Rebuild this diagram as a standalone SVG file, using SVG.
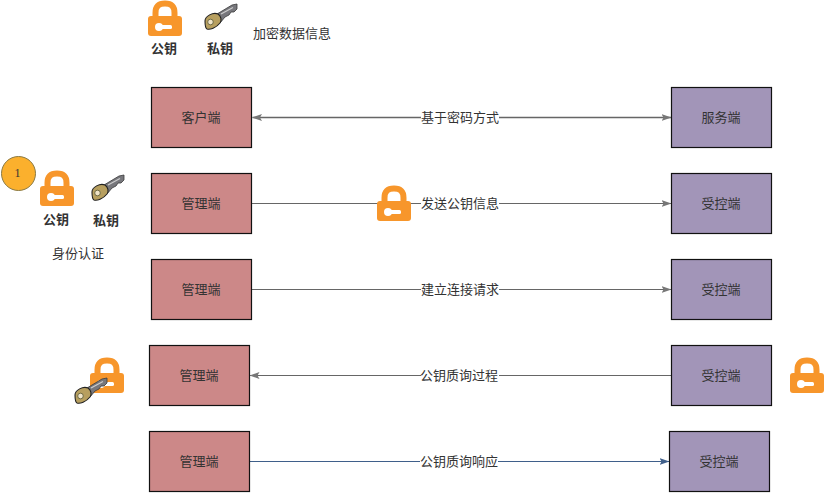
<svg xmlns="http://www.w3.org/2000/svg" width="825" height="494" viewBox="0 0 825 494">
<style>
text{font-family:"Noto Sans CJK SC","Liberation Sans",sans-serif;font-size:13px;fill:#333;text-anchor:middle;dominant-baseline:central}
.b{font-weight:700;font-size:13px}
.m{fill:#cc8888;stroke:#111;stroke-width:1.2}
.p{fill:#a295b8;stroke:#111;stroke-width:1.2}
.c{fill:none;stroke:#666;stroke-width:1}
.l{fill:#fff;stroke:none}
</style>
<defs>
<marker id="a" markerWidth="11" markerHeight="8" refX="9.5" refY="4" orient="auto-start-reverse" markerUnits="userSpaceOnUse"><path d="M0 0.500L10 4L0 7.500L2 4Z" fill="#777"/></marker>
<marker id="b" markerWidth="11" markerHeight="8" refX="9.5" refY="4" orient="auto-start-reverse" markerUnits="userSpaceOnUse"><path d="M0 0.500L10 4L0 7.500L2 4Z" fill="#3f5f8a"/></marker>
<symbol id="lock" width="35" height="35" viewBox="0 0 35 35" overflow="visible">
<path d="M7.5 16V12C7.500 5 11 2.500 17 2.500S26.500 5 26.500 12V16" fill="none" stroke="#f7962b" stroke-width="6"/>
<rect x="0" y="15" width="34" height="20" rx="3" fill="#f7962b"/>
<circle cx="11" cy="26" r="4" fill="#fff"/>
<rect x="11" y="24" width="13" height="4" rx="1.500" fill="#fff"/>
</symbol>
<symbol id="key" width="34" height="28" viewBox="0 0 34 28" overflow="visible">
<path d="M13 10L28 1L33 0L33 5L30 8L27 8L25 11L21 13L16 19Z" fill="#77777c" stroke="#3a3a3a" stroke-width=".8"/>
<path d="M17 10L29 3.500" stroke="#ccc" stroke-width="1.300" fill="none"/>
<path d="M1 17C1 12 9 8 14 10C17 12 18 16 16 19C12 24 6 26 3 25C1 24 1 20 1 17Z" fill="#b79f5f" stroke="#222" stroke-width="1.100"/>
<circle cx="6.500" cy="18" r="2.800" fill="#f0e4c8" stroke="#553" stroke-width=".8"/>
</symbol>
</defs>
<g id="connectors">
<path class="c" d="M252.500 117.500H671" style="stroke-width:1.300" marker-start="url(#a)" marker-end="url(#a)"/>
<path class="c" d="M252 203.500H671" marker-end="url(#a)"/>
<path class="c" d="M252 289.500H671" marker-end="url(#a)"/>
<path class="c" d="M671 375.500H250" marker-end="url(#a)"/>
<path class="c" d="M250 461.500H669" style="stroke:#3f5f8a" marker-end="url(#b)"/>
<rect class="l" x="421" y="109" width="78" height="17"/><text x="460" y="116">基于密码方式</text>
<rect class="l" x="421" y="195" width="78" height="17"/><text x="460" y="202">发送公钥信息</text>
<rect class="l" x="421" y="281" width="78" height="17"/><text x="460" y="288">建立连接请求</text>
<rect class="l" x="421" y="367" width="78" height="17"/><text x="459" y="374">公钥质询过程</text>
<rect class="l" x="420" y="453" width="78" height="17"/><text x="459" y="460">公钥质询响应</text>
</g>
<g id="client"><rect class="m" x="151.500" y="87.500" width="100" height="60"/><text x="201" y="116">客户端</text></g>
<g id="server"><rect class="p" x="671.500" y="87.500" width="100" height="60"/><text x="721" y="116">服务端</text></g>
<g id="admin1"><rect class="m" x="151.500" y="173.500" width="100" height="60"/><text x="201" y="202">管理端</text></g>
<g id="ctrl1"><rect class="p" x="671.500" y="173.500" width="100" height="60"/><text x="721" y="202">受控端</text></g>
<g id="admin2"><rect class="m" x="151.500" y="259.500" width="100" height="60"/><text x="201" y="288">管理端</text></g>
<g id="ctrl2"><rect class="p" x="671.500" y="259.500" width="100" height="60"/><text x="721" y="288">受控端</text></g>
<g id="admin3"><rect class="m" x="149.500" y="345.500" width="100" height="60"/><text x="199" y="374">管理端</text></g>
<g id="ctrl3"><rect class="p" x="671.500" y="345.500" width="100" height="60"/><text x="721" y="374">受控端</text></g>
<g id="admin4"><rect class="m" x="149.500" y="431.500" width="100" height="60"/><text x="199" y="460">管理端</text></g>
<g id="ctrl4"><rect class="p" x="669.500" y="431.500" width="100" height="60"/><text x="719" y="460">受控端</text></g>
<g id="legend-top">
<use href="#lock" x="148" y="1"/><text class="b" x="164" y="47">公钥</text>
<use href="#key" x="204" y="4"/><text class="b" x="220" y="47">私钥</text>
<text x="292" y="32">加密数据信息</text>
</g>
<g id="step1">
<circle cx="18.500" cy="173.500" r="17" fill="#fbb02d" stroke="#8a7a45" stroke-width="1"/>
<text x="17.500" y="173" style="font-family:'Liberation Serif',serif;font-size:12px">1</text>
</g>
<g id="legend-left">
<use href="#lock" x="40" y="171"/><text class="b" x="56" y="218">公钥</text>
<use href="#key" x="91" y="175"/><text class="b" x="106" y="219">私钥</text>
<text x="78" y="252">身份认证</text>
</g>
<g id="lock-msg"><use href="#lock" x="377" y="186"/></g>
<g id="lock-admin"><use href="#lock" x="90" y="358"/><use href="#key" x="74" y="378"/></g>
<g id="lock-ctrl"><use href="#lock" x="790" y="358"/></g>
</svg>
